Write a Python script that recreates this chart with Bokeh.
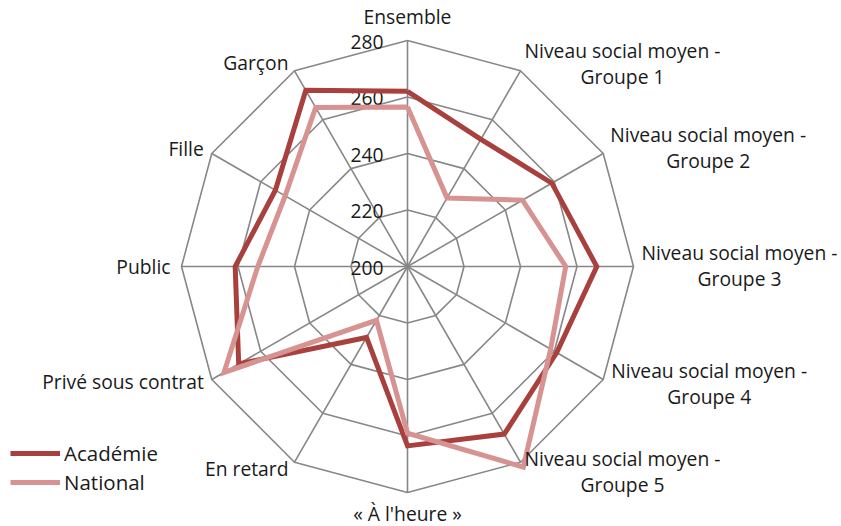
import numpy as np
from bokeh.plotting import figure
from bokeh.models import Range1d, Legend, LegendItem, ColumnDataSource
from bokeh.core.properties import value
from bokeh.embed import file_html
from bokeh.resources import INLINE

# ---------------- data ----------------
categories = [
    "Ensemble",
    "Niveau social moyen -\nGroupe 1",
    "Niveau social moyen -\nGroupe 2",
    "Niveau social moyen -\nGroupe 3",
    "Niveau social moyen -\nGroupe 4",
    "Niveau social moyen -\nGroupe 5",
    "« À l'heure »",
    "En retard",
    "Privé sous contrat",
    "Public",
    "Fille",
    "Garçon",
]
academie = [262, 252, 259, 267, 261, 268.5, 263.5, 229, 269, 261, 254, 272]
national = [256.5, 228, 247, 256, 258.5, 282, 259, 222, 275, 253, 250, 265]
ticks = [200, 220, 240, 260, 280]
series_names = ["Académie", "National"]

# ---------------- layout / style ----------------
R_MIN, R_MAX = 200, 280
PX_PER_UNIT = 226 / 80.0
W, H = 841, 526
CX, CY = 407, 266          # centre of the radar inside the canvas (px)
FONT = "Open Sans"
FSIZE = "19.3px"
LEG_FSIZE = "20.5px"
TXT = "#1a1a1a"
GRID = "#878787"
C_ACAD = "#A8403E"
C_NAT = "#D69391"

# label placement: (dx px, dy px of block centre, align)
label_pos = [
    (0, -24, "center"),
    (102, -7, "center"),
    (105, -6, "center"),
    (106, -1, "center"),
    (106, 4, "center"),
    (102, 9.5, "center"),
    (0, 21, "center"),
    (-6, 6, "right"),
    (-8, 2, "right"),
    (-11, 0, "right"),
    (-8, -5, "right"),
    (-6, -8, "right"),
]
LINE_GAP = 26.3

n = len(categories)
theta = 2 * np.pi * np.arange(n) / n
sx, sy = np.sin(theta), np.cos(theta)


def polar(vals):
    r = np.asarray(vals, dtype=float) - R_MIN
    xs = list(r * sx) + [r[0] * sx[0]]
    ys = list(r * sy) + [r[0] * sy[0]]
    return xs, ys


p = figure(
    width=W, height=H,
    x_range=Range1d(-CX / PX_PER_UNIT, (W - CX) / PX_PER_UNIT),
    y_range=Range1d(-(H - CY) / PX_PER_UNIT, CY / PX_PER_UNIT),
    output_backend="svg", toolbar_location=None,
    x_axis_location=None, y_axis_location=None,
    min_border=0,
)
p.outline_line_color = None
p.xgrid.visible = False
p.ygrid.visible = False
p.background_fill_color = "white"
p.border_fill_color = "white"

# rings
for t in ticks[1:]:
    xs, ys = polar([t] * n)
    p.line(xs, ys, line_color=GRID, line_width=1.6)
# spokes
rmax = R_MAX - R_MIN
for i in range(n):
    p.line([0, rmax * sx[i]], [0, rmax * sy[i]], line_color=GRID, line_width=1.6)

# tick labels
p.text(x=[0] * len(ticks), y=[t - R_MIN for t in ticks], text=[str(t) for t in ticks],
       x_offset=-24, y_offset=1, text_align="right", text_baseline="middle",
       text_font=value(FONT), text_font_size=FSIZE, text_color=TXT)

# series
xa, ya = polar(academie)
ra = p.line(xa, ya, line_color=C_ACAD, line_width=5, line_join="miter")
xn, yn = polar(national)
rn = p.line(xn, yn, line_color=C_NAT, line_width=5, line_join="miter")

# category labels
lx, ly, lt, lxo, lyo, la = [], [], [], [], [], []
for i, cat in enumerate(categories):
    dx, dy, al = label_pos[i]
    lines = cat.split("\n")
    k = len(lines)
    for j, ln in enumerate(lines):
        lx.append(rmax * sx[i])
        ly.append(rmax * sy[i])
        lt.append(ln)
        lxo.append(dx)
        lyo.append(dy + (j - (k - 1) / 2) * LINE_GAP)
        la.append(al)
src = ColumnDataSource(dict(x=lx, y=ly, text=lt, xo=lxo, yo=lyo, al=la))
p.text(x="x", y="y", text="text", x_offset="xo", y_offset="yo", text_align="al",
       text_baseline="middle", text_font=value(FONT), text_font_size=FSIZE,
       text_color=TXT, source=src)

legend = Legend(items=[LegendItem(label=series_names[0], renderers=[ra]),
                       LegendItem(label=series_names[1], renderers=[rn])],
                location=(10, 30), orientation="vertical")
legend.glyph_width = 50
legend.glyph_height = 20
legend.label_height = 20
legend.spacing = 1
legend.padding = 0
legend.margin = 0
legend.label_standoff = 4
legend.border_line_color = None
legend.background_fill_alpha = 0
legend.label_text_font = FONT
legend.label_text_font_size = LEG_FSIZE
legend.label_text_color = TXT
p.add_layout(legend, "center")

open("out.html", "w").write(file_html(p, INLINE))
